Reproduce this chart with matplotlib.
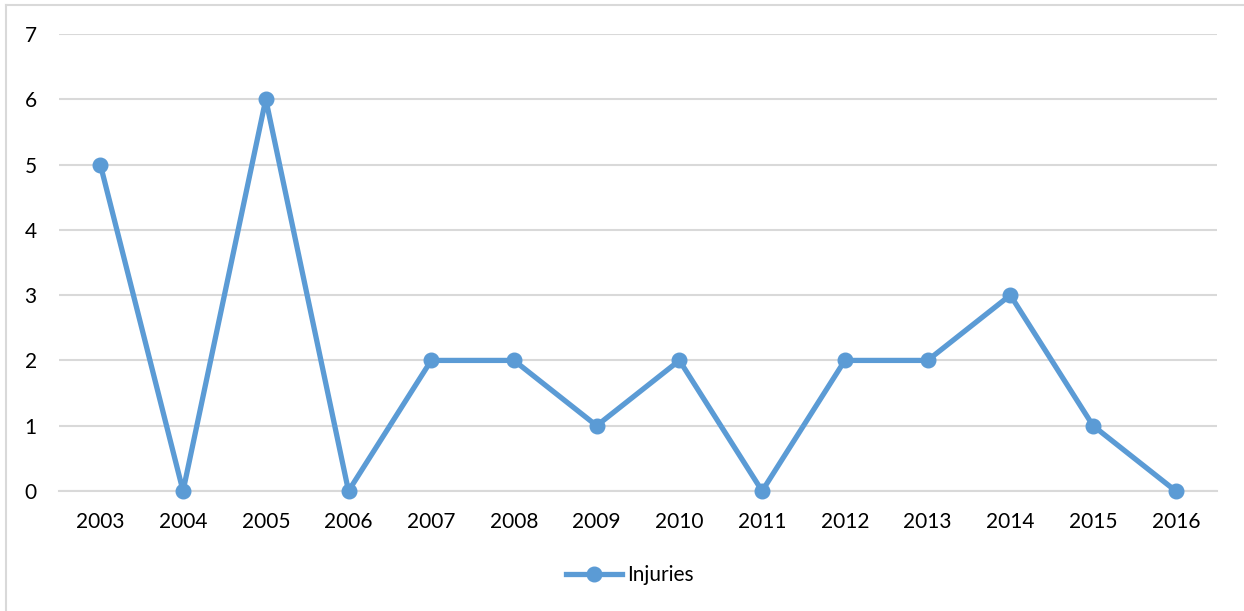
import matplotlib.pyplot as plt
from matplotlib.lines import Line2D

years = ['2003', '2004', '2005', '2006', '2007', '2008', '2009',
         '2010', '2011', '2012', '2013', '2014', '2015', '2016']
injuries = [5, 0, 6, 0, 2, 2, 1, 2, 0, 2, 2, 3, 1, 0]

blue = '#5B9BD5'
grid = '#D9D9D9'
plt.rcParams['font.family'] = ['Lato', 'DejaVu Sans']

fig = plt.figure(figsize=(12.44, 6.11), dpi=100)
ax = fig.add_axes([0.0474, 0.1964, 0.931, 0.748])

x = range(len(years))
ax.plot(x, injuries, color=blue, lw=3.8, marker='o', ms=10.5,
        solid_joinstyle='round', label='Injuries', clip_on=False, zorder=3)

ax.set_xlim(-0.5, len(years) - 0.5)
ax.set_ylim(0, 7)
ax.set_xticks(list(x))
ax.set_xticklabels(years)
ax.set_yticks(range(8))
ax.tick_params(length=0, labelsize=15, colors='black')
ax.tick_params(axis='x', pad=15)
ax.tick_params(axis='y', pad=16)
ax.yaxis.grid(True, color=grid, lw=1.5)
for s in ['top', 'right', 'left']:
    ax.spines[s].set_visible(False)
ax.spines['bottom'].set_color(grid)
ax.spines['bottom'].set_linewidth(1.5)

# outer chart frame (runs past the right and bottom edge)
fig.add_artist(Line2D([6 / 1244, 1.0], [1 - 5 / 611] * 2, color=grid, lw=1.5))
fig.add_artist(Line2D([6 / 1244] * 2, [0.0, 1 - 5 / 611], color=grid, lw=1.5))

fig.legend(loc='center', bbox_to_anchor=(630 / 1244, 1 - 575 / 611), frameon=False,
           fontsize=15, handlelength=2.7, handletextpad=0.25)

fig.savefig('out.png', dpi=100)
